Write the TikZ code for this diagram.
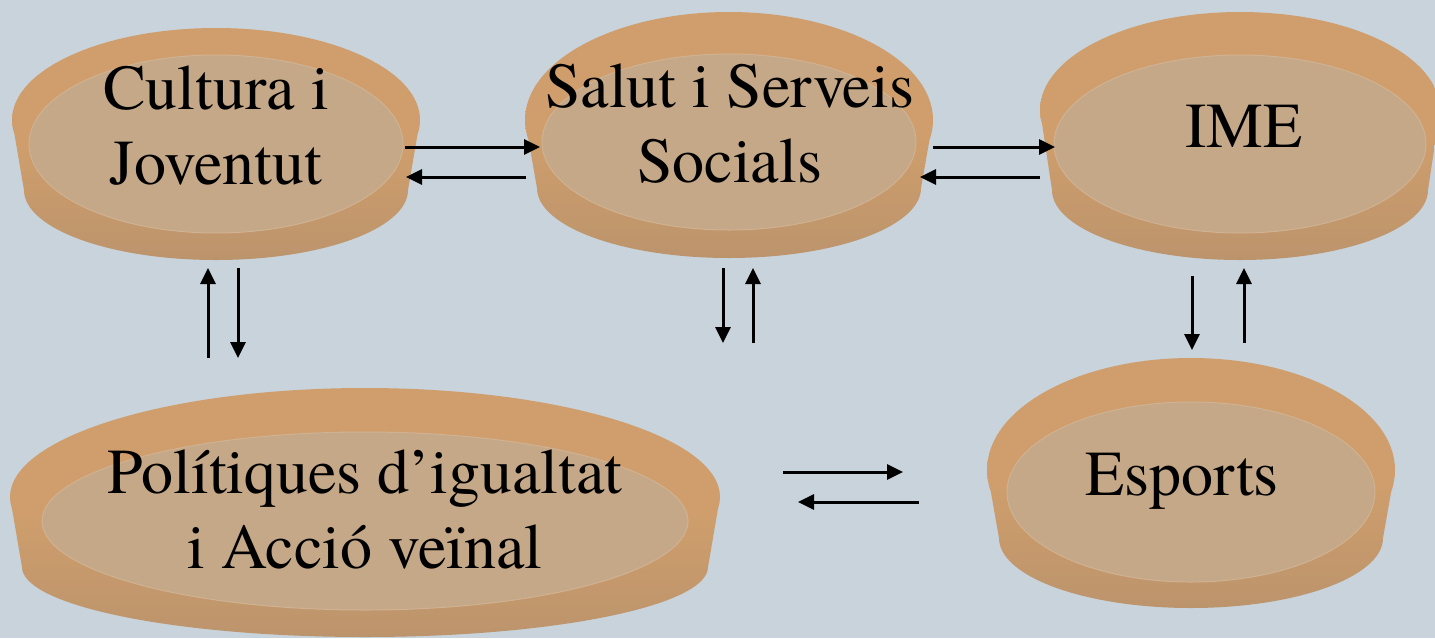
\documentclass[tikz,border=0pt]{standalone}
\usepackage{fontspec}
\IfFontExistsTF{TeX Gyre Termes}{\newfontfamily\tnr{TeX Gyre Termes}}{\newfontfamily\tnr{Liberation Serif}}
\usetikzlibrary{arrows.meta}
\definecolor{bg}{RGB}{200,211,219}
\definecolor{rim}{RGB}{207,158,108}
\definecolor{wall}{RGB}{188,148,108}
\definecolor{floorc}{RGB}{196,168,136}
\definecolor{floorline}{RGB}{208,178,146}
% #1 cx, #2 widest y, #3 rx, #4 top radius, #5 bottom y, #6 floor cy, #7 floor rx, #8 floor ry
\newcommand{\drawdish}[8]{%
  \shade[top color=rim, bottom color=wall, middle color=rim]
    (#1,#2) ellipse[x radius=#3pt, y radius=#4pt]
    (#1,#5-70) ellipse[x radius=#3pt-12pt, y radius=70pt]
    (#1-#3,#2) -- (#1-#3+12,#5-70) -- (#1+#3-12,#5-70) -- (#1+#3,#2) -- cycle;
  \filldraw[fill=floorc, draw=floorline, line width=1pt] (#1,#6) ellipse[x radius=#7pt, y radius=#8pt];
}
\begin{document}
\begin{tikzpicture}[x=1pt,y=-1pt,
  arr/.style={line width=3pt,-{Triangle[length=16pt,width=15pt]}},
  lbl/.style={font=\tnr\fontsize{64}{75}\selectfont, align=center, inner sep=0pt}]
\fill[bg] (0,0) rectangle (1435,638);
\useasboundingbox (0,0) rectangle (1435,638);
\begin{scope}
\clip (0,0) rectangle (1435,638);
\drawdish{216}{120}{204}{92}{260}{144}{187}{89}
\drawdish{729}{120}{204}{108}{258}{142}{187}{88}
\drawdish{1240}{110}{200}{98}{260}{144}{186}{89}
\drawdish{1191}{470}{204}{112}{608}{492}{184}{90}
\drawdish{365}{497}{355}{109}{637}{521}{323}{89}
\end{scope}
\node[lbl] (cult) at (216,125.7) {Cultura i\\Joventut};
\node[lbl] (salut) at (729.5,123.6) {Salut i Serveis\\Socials};
\node[lbl, anchor=base] (ime) at (1244,147) {IME};
\node[lbl, anchor=base] (esp) at (1182,495) {Esports};
\node[lbl] (pol) at (365,510) {Polítiques d’igualtat\\i Acció veïnal};
% arrow end points
\coordinate (h12rs) at (405,147); \coordinate (h12re) at (540,147);
\coordinate (h12ls) at (526,177); \coordinate (h12le) at (406,177);
\coordinate (h23rs) at (933,147); \coordinate (h23re) at (1055,147);
\coordinate (h23ls) at (1040,177); \coordinate (h23le) at (920,177);
\coordinate (v15us) at (208,358); \coordinate (v15ue) at (208,268);
\coordinate (v15ds) at (238,268); \coordinate (v15de) at (238,358);
\coordinate (v2ds) at (723,268); \coordinate (v2de) at (723,343);
\coordinate (v2us) at (753,343); \coordinate (v2ue) at (753,268);
\coordinate (v34ds) at (1192,276); \coordinate (v34de) at (1192,350);
\coordinate (v34us) at (1244,343); \coordinate (v34ue) at (1244,268);
\coordinate (h54rs) at (783,472); \coordinate (h54re) at (903,472);
\coordinate (h54ls) at (919,502); \coordinate (h54le) at (798,502);
\draw[arr] (h12rs) -- (h12re);
\draw[arr] (h12ls) -- (h12le);
\draw[arr] (h23rs) -- (h23re);
\draw[arr] (h23ls) -- (h23le);
\draw[arr] (v15us) -- (v15ue);
\draw[arr] (v15ds) -- (v15de);
\draw[arr] (v2ds) -- (v2de);
\draw[arr] (v2us) -- (v2ue);
\draw[arr] (v34ds) -- (v34de);
\draw[arr] (v34us) -- (v34ue);
\draw[arr] (h54rs) -- (h54re);
\draw[arr] (h54ls) -- (h54le);
\end{tikzpicture}
\end{document}
